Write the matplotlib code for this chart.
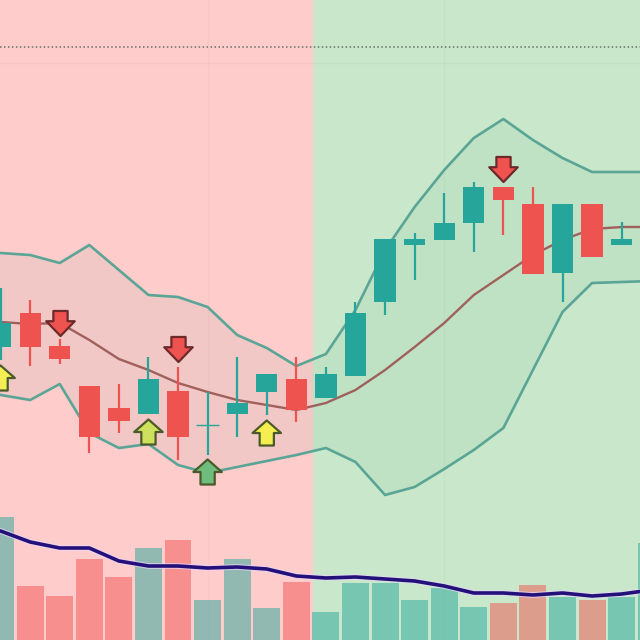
import numpy as np
import matplotlib
matplotlib.use('Agg')
import matplotlib.pyplot as plt
import matplotlib.patheffects as pe
from matplotlib.path import Path

# candle values, oldest first
open_p = [293, 327, 294, 254, 232, 226, 249, 215, 226, 248, 261, 242, 264, 338, 395, 400, 417, 453, 436, 367, 436, 395]
close_p = [317, 293, 281, 203, 219, 261, 203, 215, 237, 266, 230, 266, 327, 401, 401, 417, 453, 440, 366, 436, 383, 401]
high_p = [352, 340, 301, 254, 256, 283, 273, 248, 283, 266, 283, 273, 338, 401, 407, 447, 458, 453, 453, 436, 436, 418]
low_p = [280, 274, 276, 187, 207, 226, 180, 185, 203, 225, 218, 242, 264, 325, 360, 400, 388, 405, 366, 338, 383, 395]

upper_band = [388, 387, 385, 377, 395, 370, 345, 343, 333, 305, 292, 274, 286, 330, 390, 433, 470, 502, 521, 500, 482, 468, 468, 468]
middle_band = [320, 318, 316, 317, 300, 281, 270, 257, 248, 240, 235, 230, 237, 250, 270, 293, 317, 345, 365, 385, 400, 411, 413, 413]
lower_band = [247, 245, 240, 256, 207, 192, 196, 175, 167, 173, 179, 185, 192, 178, 145, 153, 171, 190, 212, 270, 328, 357, 358, 359]

volume = [123, 54, 44, 81, 63, 92, 100, 40, 81, 32, 58, 28, 57, 57, 40, 52, 33, 37, 55, 43, 40, 43, 97]
volume_ma = [113, 109, 98, 92, 92, 79, 74, 74, 72, 73, 71, 64, 62, 63, 61, 59, 54, 47, 47, 45, 47, 44, 46, 50]

# trade signals: candle index, level, fill
sell_idx = [2, 6, 17]
sell_lvl = [317, 291, 471]
buy_idx = [0, 5, 7, 9]
buy_lvl = [262, 208, 168, 207]
buy_col = ['#f4ee52', '#cfe05c', '#6fbd7c', '#f5ee50']

UP = '#26a69a'
DOWN = '#ef5350'
split_at = 10.56

fig = plt.figure(figsize=(6.4, 6.4), dpi=100)
ax = fig.add_axes([0, 0, 1, 1])
ax.set_xlim(-0.02, 21.62)
ax.set_ylim(0, 640)
ax.axis('off')

# trend regions behind everything
ax.axvspan(-1, split_at, color='#ffcccc', lw=0, zorder=0)
ax.axvspan(split_at, 23, color='#c9e8cb', lw=0, zorder=0)
ax.axvline(7, color='#000000', alpha=0.025, lw=1, zorder=1)
ax.axvline(15, color='#000000', alpha=0.025, lw=1, zorder=1)
ax.axhline(577, color='#000000', alpha=0.03, lw=1, zorder=1)
ax.axhline(593, color='#66706a', lw=1.1, ls=(0, (1, 1.6)), zorder=1)

band_x = np.arange(-1, 23)
ax.fill_between(band_x, lower_band, upper_band, color='#3f9a78', alpha=0.07, lw=0, zorder=2)
ax.plot(band_x, upper_band, color='#5aa595', lw=1.9, zorder=3)
ax.plot(band_x, lower_band, color='#5aa595', lw=1.9, zorder=3)
ax.plot(band_x, middle_band, color='#a0605c', lw=1.7, zorder=3)

# volume pane along the bottom, last bar belongs to the candle after the edge
up_flags = [c >= o for o, c in zip(open_p, close_p)] + [True]
for i, v in enumerate(volume):
    ax.bar(i, v, width=0.91, color=UP if up_flags[i] else DOWN, alpha=0.5, lw=0, zorder=2)
ax.plot(band_x, volume_ma, color='#24107a', lw=2.6, zorder=4,
        path_effects=[pe.Stroke(linewidth=4.2, foreground='#e6d6f5', alpha=0.7), pe.Normal()])

# candles
for i in range(len(open_p)):
    col = UP if up_flags[i] else DOWN
    ax.vlines(i, low_p[i], high_p[i], color=col, lw=1.6, zorder=5)
    if open_p[i] == close_p[i]:
        ax.hlines(open_p[i], i - 0.38, i + 0.38, color=col, lw=1.0, zorder=5)
    else:
        bottom = min(open_p[i], close_p[i])
        ax.bar(i, abs(close_p[i] - open_p[i]), bottom=bottom, width=0.72, color=col, lw=0, zorder=6)

# block arrow outlines for the signal markers
up_arrow = Path([(-0.25, -0.44), (-0.25, 0.0), (-0.5, 0.0), (0, 0.44), (0.5, 0.0), (0.25, 0.0), (0.25, -0.44), (-0.25, -0.44)], closed=True)
down_arrow = Path([(-0.25, 0.44), (-0.25, 0.08), (-0.5, 0.08), (0, -0.44), (0.5, 0.08), (0.25, 0.08), (0.25, 0.44), (-0.25, 0.44)], closed=True)

ax.scatter(sell_idx, sell_lvl, marker=down_arrow, s=420, c=DOWN, edgecolors='#6e2a2a', linewidths=1.6, zorder=7)
ax.scatter(buy_idx, buy_lvl, marker=up_arrow, s=420, c=buy_col, edgecolors='#4b5a2a', linewidths=1.6, zorder=7)

fig.savefig('out.png', dpi=100)
